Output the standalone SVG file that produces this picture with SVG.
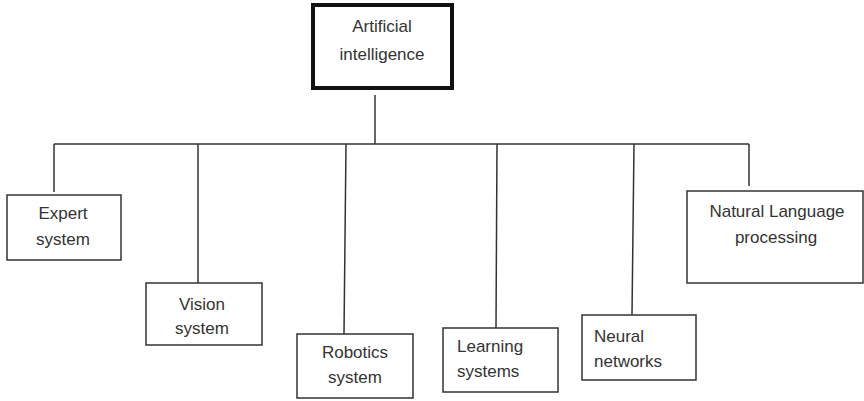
<svg xmlns="http://www.w3.org/2000/svg" width="864" height="401" viewBox="0 0 864 401">
<style>
.bg{fill:#fff}
.box{fill:#fff;stroke:#333;stroke-width:1.5}
.root{fill:#fff;stroke:#111;stroke-width:4}
.ln{stroke:#333;stroke-width:1.5;fill:none}
text{font-family:"Liberation Sans",Arial,sans-serif;font-size:17px;fill:#333}
.c{text-anchor:middle}
</style>
<rect class="bg" x="0" y="0" width="864" height="401"/>
<g id="connectors">
<line class="ln" x1="375" y1="95" x2="375" y2="144"/>
<line class="ln" x1="54" y1="144" x2="749" y2="144"/>
<line class="ln" x1="54" y1="144" x2="54" y2="192"/>
<line class="ln" x1="198" y1="144" x2="198" y2="283"/>
<line class="ln" x1="346" y1="144" x2="344" y2="334"/>
<line class="ln" x1="497" y1="144" x2="496" y2="328"/>
<line class="ln" x1="634" y1="144" x2="632" y2="315"/>
<line class="ln" x1="749" y1="144" x2="749" y2="186"/>
</g>
<g id="ai">
<rect class="root" x="313" y="5" width="139" height="83"/>
<text class="c" x="382" y="32">Artificial</text>
<text class="c" x="382" y="60">intelligence</text>
</g>
<g id="expert">
<rect class="box" x="7" y="195" width="114" height="65"/>
<text class="c" x="63" y="219">Expert</text>
<text class="c" x="63" y="245">system</text>
</g>
<g id="vision">
<rect class="box" x="146" y="283" width="116" height="62"/>
<text class="c" x="202" y="310">Vision</text>
<text class="c" x="202" y="334">system</text>
</g>
<g id="robotics">
<rect class="box" x="297" y="334" width="116" height="64"/>
<text class="c" x="355" y="358">Robotics</text>
<text class="c" x="355" y="383">system</text>
</g>
<g id="learning">
<rect class="box" x="443" y="328" width="115" height="64"/>
<text x="457" y="352">Learning</text>
<text x="457" y="377">systems</text>
</g>
<g id="neural">
<rect class="box" x="582" y="315" width="114" height="65"/>
<text x="594" y="342">Neural</text>
<text x="594" y="367">networks</text>
</g>
<g id="nlp">
<rect class="box" x="687" y="191" width="176" height="92"/>
<text class="c" x="777" y="217">Natural Language</text>
<text class="c" x="776" y="243">processing</text>
</g>
</svg>
